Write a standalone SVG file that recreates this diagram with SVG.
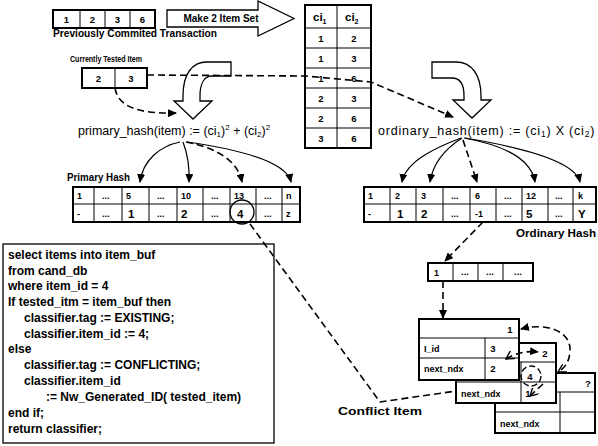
<svg xmlns="http://www.w3.org/2000/svg" width="598" height="446" viewBox="0 0 598 446">
<style>
text{font-family:"Liberation Sans",Arial,sans-serif;fill:#000}
.lbl{font-size:10px;font-weight:bold}
.sm{font-size:8.5px;font-weight:bold}
.cv{font-size:9.5px;font-weight:bold;text-anchor:middle}
.cl{font-size:9px;font-weight:bold}
.big{font-size:11.5px;font-weight:bold}
.f{font-size:12.5px}
.code{font-size:12px;font-weight:bold}
.box{fill:#fff;stroke:#000;stroke-width:2}
.ln{stroke:#000;stroke-width:1;fill:none}
.ha{fill:#fff;stroke:#000;stroke-width:1.3}
.s{fill:none;stroke:#000;stroke-width:1.2}
.d{fill:none;stroke:#000;stroke-width:1.6;stroke-dasharray:7 4}
</style>
<defs>
<marker id="ah" markerUnits="userSpaceOnUse" markerWidth="9" markerHeight="8" refX="8" refY="4" orient="auto-start-reverse"><path d="M0,0 L9,4 L0,8 Z" fill="#000"/></marker>
<marker id="cv" markerUnits="userSpaceOnUse" markerWidth="9" markerHeight="9" refX="8" refY="4.5" orient="auto-start-reverse"><path d="M0,0 L8,4.5 L0,9" fill="none" stroke="#000" stroke-width="1.4"/></marker>
</defs>

<g id="transaction">
<rect class="box" x="53" y="10" width="102" height="18"/>
<path class="ln" d="M80,10V28M105,10V28M130,10V28"/>
<text class="cv" x="66.5" y="23">1</text><text class="cv" x="92.5" y="23">2</text><text class="cv" x="117.5" y="23">3</text><text class="cv" x="142.5" y="23">6</text>
<text class="lbl" x="53" y="37" textLength="164" lengthAdjust="spacingAndGlyphs">Previously Commited Transaction</text>
</g>

<g id="make-2-item-set">
<path class="ha" d="M167,10 H258 V1 L294,18.5 L258,36 V27 H167 Z"/>
<text class="lbl" x="221" y="22" text-anchor="middle">Make 2 Item Set</text>
</g>

<g id="item-set-table">
<rect class="box" x="305" y="5" width="66" height="143"/>
<path class="ln" d="M337,5V148M305,28H371M305,48H371M305,68H371M305,88H371M305,108H371M305,128H371"/>
<text class="big" x="313" y="21">ci<tspan font-size="7" dy="3">1</tspan></text>
<text class="big" x="345" y="21">ci<tspan font-size="7" dy="3">2</tspan></text>
<text class="cv" x="321" y="42">1</text><text class="cv" x="354" y="42">2</text>
<text class="cv" x="321" y="62">1</text><text class="cv" x="354" y="62">3</text>
<text class="cv" x="321" y="82">1</text><text class="cv" x="354" y="82">6</text>
<text class="cv" x="321" y="102">2</text><text class="cv" x="354" y="102">3</text>
<text class="cv" x="321" y="122">2</text><text class="cv" x="354" y="122">6</text>
<text class="cv" x="321" y="142">3</text><text class="cv" x="354" y="142">6</text>
</g>

<g id="tested-item">
<text class="sm" x="70" y="62" textLength="72" lengthAdjust="spacingAndGlyphs">Currently Tested Item</text>
<rect class="box" x="82" y="68" width="65" height="20"/>
<path class="ln" d="M115,68V88"/>
<text class="cv" x="98.5" y="82">2</text><text class="cv" x="131" y="82">3</text>
</g>

<g id="to-primary-arrow"><path class="ha" d="M231,62 H207 C192,62 183,74 183,96 V101 H174 L193,119 L212,101 H200 V96 C200,84 204,76 212,76 H231 Z"/></g>
<g id="to-ordinary-arrow"><path class="ha" d="M432,62 H456 C471,62 481,74 481,96 V100 H491 L472,118 L453,100 H464 V96 C464,84 460,78 452,78 H432 Z"/></g>

<g id="primary-hash-function"><text class="f" x="78" y="135">primary_hash(item) := (ci<tspan font-size="8" dy="2">1</tspan><tspan dy="-2">)</tspan><tspan font-size="8" dy="-5">2</tspan><tspan dy="5"> + (ci</tspan><tspan font-size="8" dy="2">2</tspan><tspan dy="-2">)</tspan><tspan font-size="8" dy="-5">2</tspan></text></g>
<g id="ordinary-hash-function"><text class="f" x="378" y="135" font-size="13.5" letter-spacing="0.8">ordinary_hash(item) := (ci<tspan font-size="8.5" dy="2">1</tspan><tspan dy="-2">) X (ci</tspan><tspan font-size="8.5" dy="2">2</tspan><tspan dy="-2">)</tspan></text></g>

<g id="primary-hash">
<text class="lbl" x="67" y="181" textLength="63" lengthAdjust="spacingAndGlyphs">Primary Hash</text>
<rect class="box" x="73" y="187" width="227" height="35"/>
<path class="ln" d="M73,204H300M94,187V222M122,187V222M149,187V222M177,187V222M203,187V222M230,187V222M256,187V222M282,187V222"/>
<g class="cl"><text x="77" y="199">1</text><text x="102" y="199">...</text><text x="126" y="199">5</text><text x="157" y="199">...</text><text x="181" y="199">10</text><text x="211" y="199">...</text><text x="234" y="199">13</text><text x="264" y="199">...</text><text x="286" y="199">n</text></g>
<g class="cl"><text x="77" y="217">-</text><text x="102" y="217">...</text><text x="157" y="217">...</text><text x="211" y="217">...</text><text x="264" y="217">...</text><text x="286" y="217">z</text></g>
<g class="big"><text x="128" y="218">1</text><text x="181" y="218">2</text><text x="237" y="218">4</text></g>
</g>

<g id="ordinary-hash">
<rect class="box" x="364" y="187" width="232" height="35"/>
<path class="ln" d="M364,204H596M390,187V222M416,187V222M443,187V222M470,187V222M496,187V222M522,187V222M548,187V222M573,187V222"/>
<g class="cl"><text x="368" y="199">1</text><text x="395" y="199">2</text><text x="421" y="199">3</text><text x="451" y="199">...</text><text x="475" y="199">6</text><text x="504" y="199">...</text><text x="526" y="199">12</text><text x="555" y="199">...</text><text x="578" y="199">k</text></g>
<g class="cl"><text x="368" y="217">-</text><text x="451" y="217">...</text><text x="475" y="217">-1</text><text x="504" y="217">...</text><text x="555" y="217">...</text></g>
<g class="big"><text x="397" y="218">1</text><text x="421" y="218">2</text><text x="526" y="218">5</text><text x="578" y="218">Y</text></g>
<text class="lbl" x="516" y="237" textLength="80" lengthAdjust="spacingAndGlyphs">Ordinary Hash</text>
</g>

<g id="index-list">
<rect class="box" x="428" y="263" width="105" height="18"/>
<path class="ln" d="M453,263V281M478,263V281M503,263V281"/>
<text class="cl" x="434" y="276">1</text><text class="cv" x="465" y="275">...</text><text class="cv" x="490" y="275">...</text><text class="cv" x="518" y="275">...</text>
</g>

<g id="code-box">
<rect x="3" y="244" width="271" height="199" fill="#fff" stroke="#000" stroke-width="1.3"/>
<g class="code">
<text x="8" y="259">select items into item_buf</text>
<text x="8" y="275">from cand_db</text>
<text x="8" y="290">where item_id = 4</text>
<text x="8" y="306">If tested_itm = item_buf then</text>
<text x="24" y="322">classifier.tag := EXISTING;</text>
<text x="24" y="338">classifier.item_id := 4;</text>
<text x="8" y="353">else</text>
<text x="24" y="369">classifier.tag := CONFLICTING;</text>
<text x="24" y="385">classifier.item_id</text>
<text x="46" y="401">:= Nw_Generated_ID( tested_item)</text>
<text x="8" y="417">end if;</text>
<text x="8" y="433">return classifier;</text>
</g>
</g>

<g id="conflict-node-3">
<rect class="box" x="495" y="373" width="100" height="60"/>
<path class="ln" d="M495,392H595M495,412H595M560,392V433"/>
<text class="cv" x="588" y="387">?</text>
<text class="cl" x="500" y="427">next_ndx</text>
</g>
<g id="conflict-node-2">
<rect class="box" x="456" y="343" width="100" height="60"/>
<path class="ln" d="M456,362H556M456,382H556M521,362V403"/>
<text class="cv" x="545" y="357">2</text>
<text class="cv" x="530" y="380">4</text>
<text class="cl" x="461" y="397">next_ndx</text><text class="cv" x="528" y="397">1</text>
</g>
<g id="conflict-node-1">
<rect class="box" x="419" y="319" width="100" height="61"/>
<path class="ln" d="M419,338H519M419,358H519M485,338V380"/>
<text class="cv" x="510" y="333">1</text>
<text class="cl" x="424" y="352">I_id</text><text class="cv" x="493" y="352">3</text>
<text class="cl" x="424" y="372">next_ndx</text><text class="cv" x="493" y="372">2</text>
</g>
<text class="lbl" x="338" y="415" font-size="12" textLength="84" lengthAdjust="spacingAndGlyphs">Conflict Item</text>

<g id="connectors">
<path class="d" d="M147,75 L305,76 L371,82 L453,117" marker-end="url(#ah)"/>
<path class="d" d="M115,88 C118,106 136,114 176,113" marker-end="url(#ah)"/>
<path class="s" d="M180,142 C160,146 143,160 140,182" marker-end="url(#ah)"/>
<path class="s" d="M183,142 Q190,160 189,182" marker-end="url(#ah)"/>
<path class="d" d="M186,142 Q236,152 242,182" marker-end="url(#ah)"/>
<path class="s" d="M187,142 Q285,156 291,182" marker-end="url(#ah)"/>
<path class="s" d="M461,138 C440,146 406,160 402,182" marker-end="url(#ah)"/>
<path class="s" d="M462,138 Q434,156 430,182" marker-end="url(#ah)"/>
<path class="d" d="M463,140 L477,182" marker-end="url(#ah)"/>
<path class="s" d="M464,138 Q530,150 535,182" marker-end="url(#ah)"/>
<path class="s" d="M465,138 Q574,156 580,182" marker-end="url(#ah)"/>
<circle cx="242" cy="212" r="12" fill="none" stroke="#000" stroke-width="1.3"/>
<path class="d" d="M250,224 L380,402 L456,391"/>
<path class="d" d="M483,222 L445,261" marker-end="url(#ah)"/>
<path class="d" d="M443,281 L443,318" marker-end="url(#ah)"/>
<path class="d" d="M521,329 C548,322 572,332 570,352 C569,362 565,368 558,372" marker-start="url(#ah)" marker-end="url(#cv)"/>
<path class="d" d="M506,359 Q520,350 538,352" marker-start="url(#cv)" marker-end="url(#ah)"/>
<circle cx="531" cy="376" r="10" fill="none" stroke="#000" stroke-width="1.4" stroke-dasharray="6 3"/>
<path class="d" d="M543,384 L530,396" marker-end="url(#cv)"/>
</g>
</svg>
